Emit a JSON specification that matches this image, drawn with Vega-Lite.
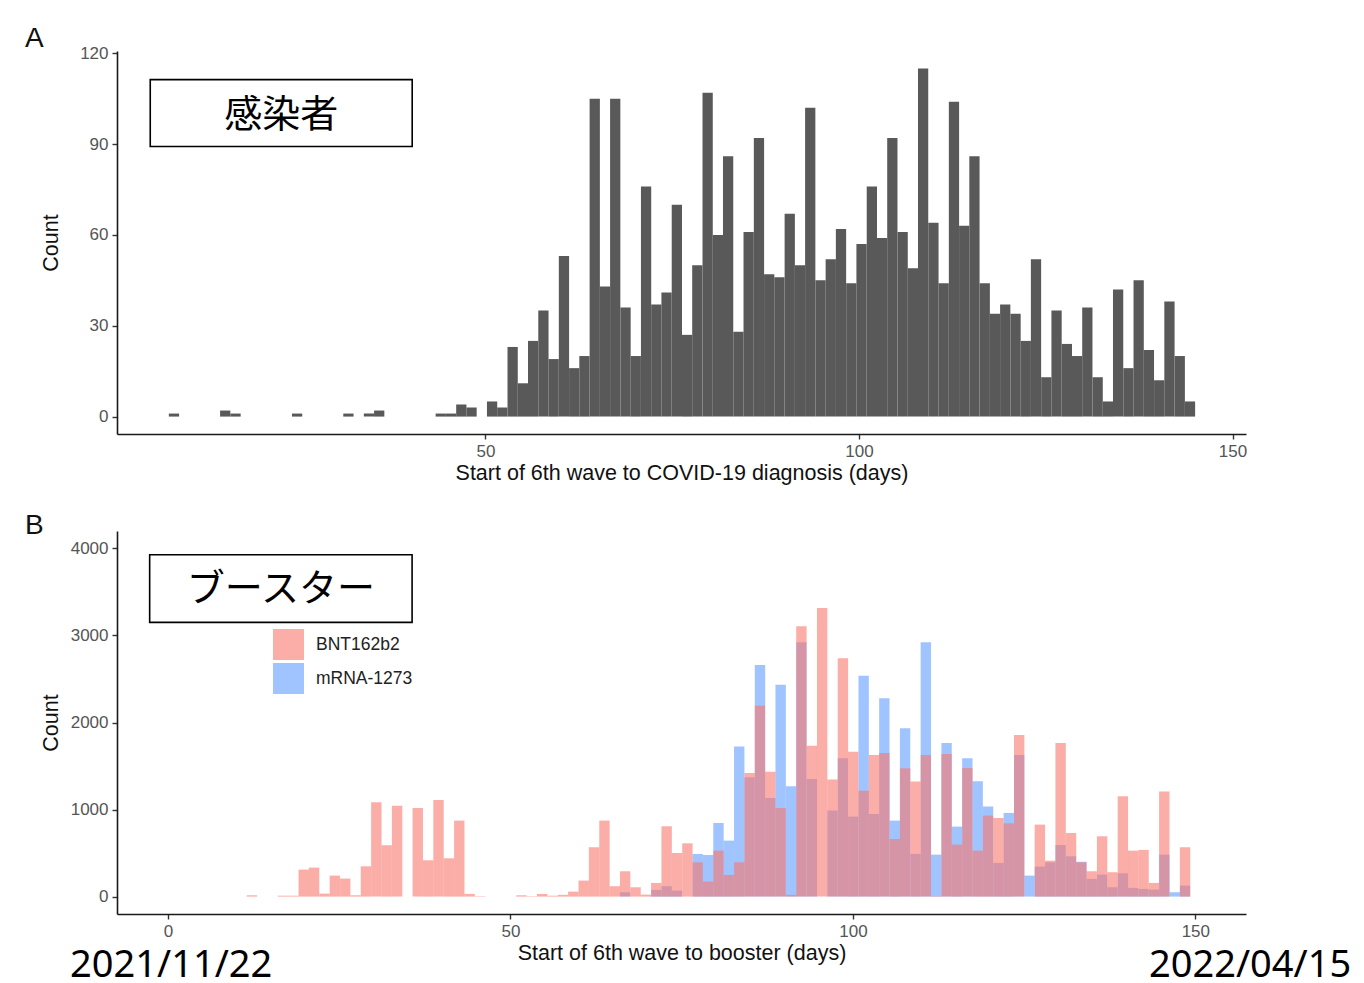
{
  "$schema": "https://vega.github.io/schema/vega-lite/v6.json",
  "padding": {"left": 25, "top": 25, "right": 5, "bottom": 5},
  "spacing": 28,
  "config": {
    "view": {"stroke": null},
    "font": "Liberation Sans",
    "axis": {"grid": false, "domainColor": "#1a1a1a", "domainWidth": 1.6, "tickColor": "#333333", "tickWidth": 1.4, "tickSize": 5, "labelFont": "Liberation Sans", "labelFontSize": 17, "labelColor": "#555555", "labelPadding": 4, "titleFont": "Liberation Sans", "titleFontSize": 21.5, "titleFontWeight": "normal", "titleColor": "#111111"},
    "axisX": {"labelPadding": 4, "titlePadding": 3},
    "title": {"anchor": "start", "frame": "group", "dx": -92, "offset": -9, "baseline": "alphabetic", "fontSize": 28, "font": "Liberation Sans", "fontWeight": "normal", "color": "#111111"}
  },
  "datasets": {
    "infections": [
      {"start": 7.56, "count": 1}, {"start": 14.42, "count": 2}, {"start": 15.80, "count": 1}, {"start": 24.04, "count": 1},
      {"start": 30.91, "count": 1}, {"start": 33.66, "count": 1}, {"start": 35.03, "count": 2}, {"start": 43.27, "count": 1},
      {"start": 44.65, "count": 1}, {"start": 46.02, "count": 4}, {"start": 47.39, "count": 3}, {"start": 50.14, "count": 5},
      {"start": 51.51, "count": 3}, {"start": 52.89, "count": 23}, {"start": 54.26, "count": 11}, {"start": 55.63, "count": 25},
      {"start": 57.01, "count": 35}, {"start": 58.38, "count": 19}, {"start": 59.76, "count": 53}, {"start": 61.13, "count": 16},
      {"start": 62.50, "count": 20}, {"start": 63.88, "count": 105}, {"start": 65.25, "count": 43}, {"start": 66.62, "count": 105},
      {"start": 68.00, "count": 36}, {"start": 69.37, "count": 20}, {"start": 70.75, "count": 76}, {"start": 72.12, "count": 37},
      {"start": 73.49, "count": 41}, {"start": 74.87, "count": 70}, {"start": 76.24, "count": 27}, {"start": 77.61, "count": 50},
      {"start": 78.99, "count": 107}, {"start": 80.36, "count": 60}, {"start": 81.73, "count": 86}, {"start": 83.11, "count": 28},
      {"start": 84.48, "count": 61}, {"start": 85.86, "count": 92}, {"start": 87.23, "count": 47}, {"start": 88.60, "count": 46},
      {"start": 89.98, "count": 67}, {"start": 91.35, "count": 50}, {"start": 92.72, "count": 102}, {"start": 94.10, "count": 45},
      {"start": 95.47, "count": 52}, {"start": 96.84, "count": 62}, {"start": 98.22, "count": 44}, {"start": 99.59, "count": 57},
      {"start": 100.97, "count": 76}, {"start": 102.34, "count": 59}, {"start": 103.71, "count": 92}, {"start": 105.09, "count": 61},
      {"start": 106.46, "count": 49}, {"start": 107.83, "count": 115}, {"start": 109.21, "count": 64}, {"start": 110.58, "count": 44},
      {"start": 111.96, "count": 104}, {"start": 113.33, "count": 63}, {"start": 114.70, "count": 86}, {"start": 116.08, "count": 44},
      {"start": 117.45, "count": 34}, {"start": 118.82, "count": 37}, {"start": 120.20, "count": 34}, {"start": 121.57, "count": 25},
      {"start": 122.94, "count": 52}, {"start": 124.32, "count": 13}, {"start": 125.69, "count": 35}, {"start": 127.07, "count": 24},
      {"start": 128.44, "count": 20}, {"start": 129.81, "count": 36}, {"start": 131.19, "count": 13}, {"start": 132.56, "count": 5},
      {"start": 133.93, "count": 42}, {"start": 135.31, "count": 16}, {"start": 136.68, "count": 45}, {"start": 138.05, "count": 22},
      {"start": 139.43, "count": 12}, {"start": 140.80, "count": 38}, {"start": 142.18, "count": 20}, {"start": 143.55, "count": 5}
    ],
    "booster": [
      {"start": 65.91, "count": 50, "vaccine": "mRNA-1273"}, {"start": 70.46, "count": 77, "vaccine": "mRNA-1273"},
      {"start": 71.97, "count": 119, "vaccine": "mRNA-1273"}, {"start": 73.48, "count": 69, "vaccine": "mRNA-1273"},
      {"start": 76.51, "count": 490, "vaccine": "mRNA-1273"}, {"start": 78.03, "count": 478, "vaccine": "mRNA-1273"},
      {"start": 79.54, "count": 846, "vaccine": "mRNA-1273"}, {"start": 81.05, "count": 643, "vaccine": "mRNA-1273"},
      {"start": 82.57, "count": 1723, "vaccine": "mRNA-1273"}, {"start": 84.08, "count": 1370, "vaccine": "mRNA-1273"},
      {"start": 85.60, "count": 2660, "vaccine": "mRNA-1273"}, {"start": 87.11, "count": 1133, "vaccine": "mRNA-1273"},
      {"start": 88.62, "count": 2435, "vaccine": "mRNA-1273"}, {"start": 90.14, "count": 1267, "vaccine": "mRNA-1273"},
      {"start": 91.65, "count": 2921, "vaccine": "mRNA-1273"}, {"start": 93.17, "count": 1351, "vaccine": "mRNA-1273"},
      {"start": 96.19, "count": 988, "vaccine": "mRNA-1273"}, {"start": 97.71, "count": 1589, "vaccine": "mRNA-1273"},
      {"start": 99.22, "count": 919, "vaccine": "mRNA-1273"}, {"start": 100.74, "count": 2538, "vaccine": "mRNA-1273"},
      {"start": 102.25, "count": 949, "vaccine": "mRNA-1273"}, {"start": 103.76, "count": 2278, "vaccine": "mRNA-1273"},
      {"start": 105.28, "count": 873, "vaccine": "mRNA-1273"}, {"start": 106.79, "count": 1933, "vaccine": "mRNA-1273"},
      {"start": 108.31, "count": 490, "vaccine": "mRNA-1273"}, {"start": 109.82, "count": 2921, "vaccine": "mRNA-1273"},
      {"start": 111.33, "count": 482, "vaccine": "mRNA-1273"}, {"start": 112.85, "count": 1765, "vaccine": "mRNA-1273"},
      {"start": 114.36, "count": 804, "vaccine": "mRNA-1273"}, {"start": 115.88, "count": 1589, "vaccine": "mRNA-1273"},
      {"start": 117.39, "count": 1325, "vaccine": "mRNA-1273"}, {"start": 118.90, "count": 1034, "vaccine": "mRNA-1273"},
      {"start": 120.42, "count": 387, "vaccine": "mRNA-1273"}, {"start": 121.93, "count": 961, "vaccine": "mRNA-1273"},
      {"start": 123.45, "count": 1627, "vaccine": "mRNA-1273"}, {"start": 124.96, "count": 241, "vaccine": "mRNA-1273"},
      {"start": 126.47, "count": 345, "vaccine": "mRNA-1273"}, {"start": 127.99, "count": 394, "vaccine": "mRNA-1273"},
      {"start": 129.50, "count": 593, "vaccine": "mRNA-1273"}, {"start": 131.02, "count": 463, "vaccine": "mRNA-1273"},
      {"start": 132.53, "count": 400, "vaccine": "mRNA-1273"}, {"start": 134.04, "count": 203, "vaccine": "mRNA-1273"},
      {"start": 135.56, "count": 253, "vaccine": "mRNA-1273"}, {"start": 137.07, "count": 107, "vaccine": "mRNA-1273"},
      {"start": 138.59, "count": 268, "vaccine": "mRNA-1273"}, {"start": 140.10, "count": 100, "vaccine": "mRNA-1273"},
      {"start": 141.61, "count": 88, "vaccine": "mRNA-1273"}, {"start": 143.13, "count": 80, "vaccine": "mRNA-1273"},
      {"start": 144.64, "count": 482, "vaccine": "mRNA-1273"}, {"start": 146.16, "count": 50, "vaccine": "mRNA-1273"},
      {"start": 147.67, "count": 126, "vaccine": "mRNA-1273"},
      {"start": 11.41, "count": 15, "vaccine": "BNT162b2"}, {"start": 15.95, "count": 10, "vaccine": "BNT162b2"},
      {"start": 17.47, "count": 10, "vaccine": "BNT162b2"}, {"start": 18.98, "count": 310, "vaccine": "BNT162b2"},
      {"start": 20.49, "count": 333, "vaccine": "BNT162b2"}, {"start": 22.01, "count": 34, "vaccine": "BNT162b2"},
      {"start": 23.52, "count": 241, "vaccine": "BNT162b2"}, {"start": 25.04, "count": 207, "vaccine": "BNT162b2"},
      {"start": 26.55, "count": 15, "vaccine": "BNT162b2"}, {"start": 28.06, "count": 348, "vaccine": "BNT162b2"},
      {"start": 29.58, "count": 1083, "vaccine": "BNT162b2"}, {"start": 31.09, "count": 590, "vaccine": "BNT162b2"},
      {"start": 32.61, "count": 1045, "vaccine": "BNT162b2"}, {"start": 35.63, "count": 1018, "vaccine": "BNT162b2"},
      {"start": 37.15, "count": 417, "vaccine": "BNT162b2"}, {"start": 38.66, "count": 1110, "vaccine": "BNT162b2"},
      {"start": 40.18, "count": 440, "vaccine": "BNT162b2"}, {"start": 41.69, "count": 873, "vaccine": "BNT162b2"},
      {"start": 43.20, "count": 31, "vaccine": "BNT162b2"}, {"start": 44.72, "count": 5, "vaccine": "BNT162b2"},
      {"start": 50.77, "count": 15, "vaccine": "BNT162b2"}, {"start": 52.29, "count": 5, "vaccine": "BNT162b2"},
      {"start": 53.80, "count": 30, "vaccine": "BNT162b2"}, {"start": 55.32, "count": 10, "vaccine": "BNT162b2"},
      {"start": 56.83, "count": 20, "vaccine": "BNT162b2"}, {"start": 58.34, "count": 57, "vaccine": "BNT162b2"},
      {"start": 59.86, "count": 184, "vaccine": "BNT162b2"}, {"start": 61.37, "count": 567, "vaccine": "BNT162b2"},
      {"start": 62.89, "count": 873, "vaccine": "BNT162b2"}, {"start": 64.40, "count": 119, "vaccine": "BNT162b2"},
      {"start": 65.91, "count": 291, "vaccine": "BNT162b2"}, {"start": 67.43, "count": 107, "vaccine": "BNT162b2"},
      {"start": 68.94, "count": 23, "vaccine": "BNT162b2"}, {"start": 70.46, "count": 157, "vaccine": "BNT162b2"},
      {"start": 71.97, "count": 808, "vaccine": "BNT162b2"}, {"start": 73.48, "count": 501, "vaccine": "BNT162b2"},
      {"start": 75.00, "count": 612, "vaccine": "BNT162b2"}, {"start": 76.51, "count": 394, "vaccine": "BNT162b2"},
      {"start": 78.03, "count": 172, "vaccine": "BNT162b2"}, {"start": 79.54, "count": 528, "vaccine": "BNT162b2"},
      {"start": 81.05, "count": 249, "vaccine": "BNT162b2"}, {"start": 82.57, "count": 394, "vaccine": "BNT162b2"},
      {"start": 84.08, "count": 1420, "vaccine": "BNT162b2"}, {"start": 85.60, "count": 2193, "vaccine": "BNT162b2"},
      {"start": 87.11, "count": 1435, "vaccine": "BNT162b2"}, {"start": 88.62, "count": 1018, "vaccine": "BNT162b2"},
      {"start": 90.14, "count": 20, "vaccine": "BNT162b2"}, {"start": 91.65, "count": 3105, "vaccine": "BNT162b2"},
      {"start": 93.17, "count": 1734, "vaccine": "BNT162b2"}, {"start": 94.68, "count": 3315, "vaccine": "BNT162b2"},
      {"start": 96.19, "count": 1344, "vaccine": "BNT162b2"}, {"start": 97.71, "count": 2737, "vaccine": "BNT162b2"},
      {"start": 99.22, "count": 1665, "vaccine": "BNT162b2"}, {"start": 100.74, "count": 1217, "vaccine": "BNT162b2"},
      {"start": 102.25, "count": 1627, "vaccine": "BNT162b2"}, {"start": 103.76, "count": 1650, "vaccine": "BNT162b2"},
      {"start": 105.28, "count": 662, "vaccine": "BNT162b2"}, {"start": 106.79, "count": 1474, "vaccine": "BNT162b2"},
      {"start": 108.31, "count": 1321, "vaccine": "BNT162b2"}, {"start": 109.82, "count": 1627, "vaccine": "BNT162b2"},
      {"start": 111.33, "count": 5, "vaccine": "BNT162b2"}, {"start": 112.85, "count": 1638, "vaccine": "BNT162b2"},
      {"start": 114.36, "count": 597, "vaccine": "BNT162b2"}, {"start": 115.88, "count": 1478, "vaccine": "BNT162b2"},
      {"start": 117.39, "count": 528, "vaccine": "BNT162b2"}, {"start": 118.90, "count": 930, "vaccine": "BNT162b2"},
      {"start": 120.42, "count": 903, "vaccine": "BNT162b2"}, {"start": 121.93, "count": 842, "vaccine": "BNT162b2"},
      {"start": 123.45, "count": 1857, "vaccine": "BNT162b2"}, {"start": 126.47, "count": 827, "vaccine": "BNT162b2"},
      {"start": 127.99, "count": 413, "vaccine": "BNT162b2"}, {"start": 129.50, "count": 1765, "vaccine": "BNT162b2"},
      {"start": 131.02, "count": 731, "vaccine": "BNT162b2"}, {"start": 132.53, "count": 394, "vaccine": "BNT162b2"},
      {"start": 134.04, "count": 291, "vaccine": "BNT162b2"}, {"start": 135.56, "count": 693, "vaccine": "BNT162b2"},
      {"start": 137.07, "count": 280, "vaccine": "BNT162b2"}, {"start": 138.59, "count": 1152, "vaccine": "BNT162b2"},
      {"start": 140.10, "count": 528, "vaccine": "BNT162b2"}, {"start": 141.61, "count": 536, "vaccine": "BNT162b2"},
      {"start": 143.13, "count": 157, "vaccine": "BNT162b2"}, {"start": 144.64, "count": 1206, "vaccine": "BNT162b2"},
      {"start": 147.67, "count": 567, "vaccine": "BNT162b2"}
    ]
  },
  "vconcat": [
    {
      "width": 1129,
      "height": 383,
      "title": {"text": "A"},
      "layer": [
        {
          "data": {"name": "infections"},
          "mark": {"type": "bar", "color": "#595959", "binSpacing": 0},
          "encoding": {
            "x": {"field": "start", "type": "quantitative", "bin": {"binned": true, "step": 1.3737},
                  "scale": {"domain": [0.69, 151.8], "nice": false, "zero": false},
                  "axis": {"values": [50, 100, 150], "title": "Start of 6th wave to COVID-19 diagnosis (days)"}},
            "y": {"field": "count", "type": "quantitative",
                  "scale": {"domain": [-5.75, 120.75], "nice": false, "zero": false},
                  "axis": {"values": [0, 30, 60, 90, 120], "title": "Count", "titlePadding": 17}}
          }
        },
        {
          "data": {"values": [{"start": 5.14, "end": 40.2, "count": 89.2, "top": 111.3}]},
          "mark": {"type": "rect", "fill": "white", "stroke": "black", "strokeWidth": 1.6},
          "encoding": {
            "x": {"field": "start", "type": "quantitative"},
            "x2": {"field": "end"},
            "y": {"field": "count", "type": "quantitative"},
            "y2": {"field": "top"}
          }
        },
        {
          "data": {"values": [{"start": 22.67, "count": 99.2, "label": "感染者"}]},
          "mark": {"type": "text", "font": "Noto Sans CJK JP", "fontSize": 38, "color": "black", "baseline": "middle", "align": "center"},
          "encoding": {
            "x": {"field": "start", "type": "quantitative"},
            "y": {"field": "count", "type": "quantitative"},
            "text": {"field": "label"}
          }
        }
      ]
    },
    {
      "width": 1129,
      "height": 383,
      "title": {"text": "B"},
      "layer": [
        {
          "data": {"name": "booster"},
          "mark": {"type": "bar", "opacity": 0.6, "binSpacing": 0},
          "encoding": {
            "x": {"field": "start", "type": "quantitative", "bin": {"binned": true, "step": 1.514},
                  "scale": {"domain": [-7.46, 157.4], "nice": false, "zero": false},
                  "axis": {"values": [0, 50, 100, 150], "title": "Start of 6th wave to booster (days)"}},
            "y": {"field": "count", "type": "quantitative", "stack": null,
                  "scale": {"domain": [-200, 4200], "nice": false, "zero": false},
                  "axis": {"values": [0, 1000, 2000, 3000, 4000], "format": "d", "title": "Count", "titlePadding": 8}},
            "color": {"field": "vaccine", "type": "nominal",
                      "scale": {"domain": ["BNT162b2", "mRNA-1273"], "range": ["#F8766D", "#619CFF"]},
                      "legend": {"orient": "none", "legendX": 156, "legendY": 578, "title": null, "symbolType": "square", "symbolSize": 961, "symbolOpacity": 0.6, "symbolStrokeWidth": 0, "labelFontSize": 17.5, "labelFont": "Liberation Sans", "labelColor": "#222222", "labelOffset": 12, "rowPadding": 3}}
          }
        },
        {
          "data": {"values": [{"start": -2.69, "end": 35.63, "count": 3150, "top": 3927}]},
          "mark": {"type": "rect", "fill": "white", "stroke": "black", "strokeWidth": 1.6},
          "encoding": {
            "x": {"field": "start", "type": "quantitative"},
            "x2": {"field": "end"},
            "y": {"field": "count", "type": "quantitative"},
            "y2": {"field": "top"}
          }
        },
        {
          "data": {"values": [{"start": 16.47, "count": 3520, "label": "ブースター"}]},
          "mark": {"type": "text", "font": "Noto Sans CJK JP", "fontSize": 38, "color": "black", "baseline": "middle", "align": "center"},
          "encoding": {
            "x": {"field": "start", "type": "quantitative"},
            "y": {"field": "count", "type": "quantitative"},
            "text": {"field": "label"}
          }
        },
        {
          "data": {"values": [{"start": 0.45, "count": -795, "label": "2021/11/22"}, {"start": 158.0, "count": -795, "label": "2022/04/15"}]},
          "mark": {"type": "text", "font": "Noto Sans", "fontSize": 38, "color": "black", "baseline": "middle", "align": "center"},
          "encoding": {
            "x": {"field": "start", "type": "quantitative"},
            "y": {"field": "count", "type": "quantitative"},
            "text": {"field": "label"}
          }
        }
      ]
    }
  ]
}
